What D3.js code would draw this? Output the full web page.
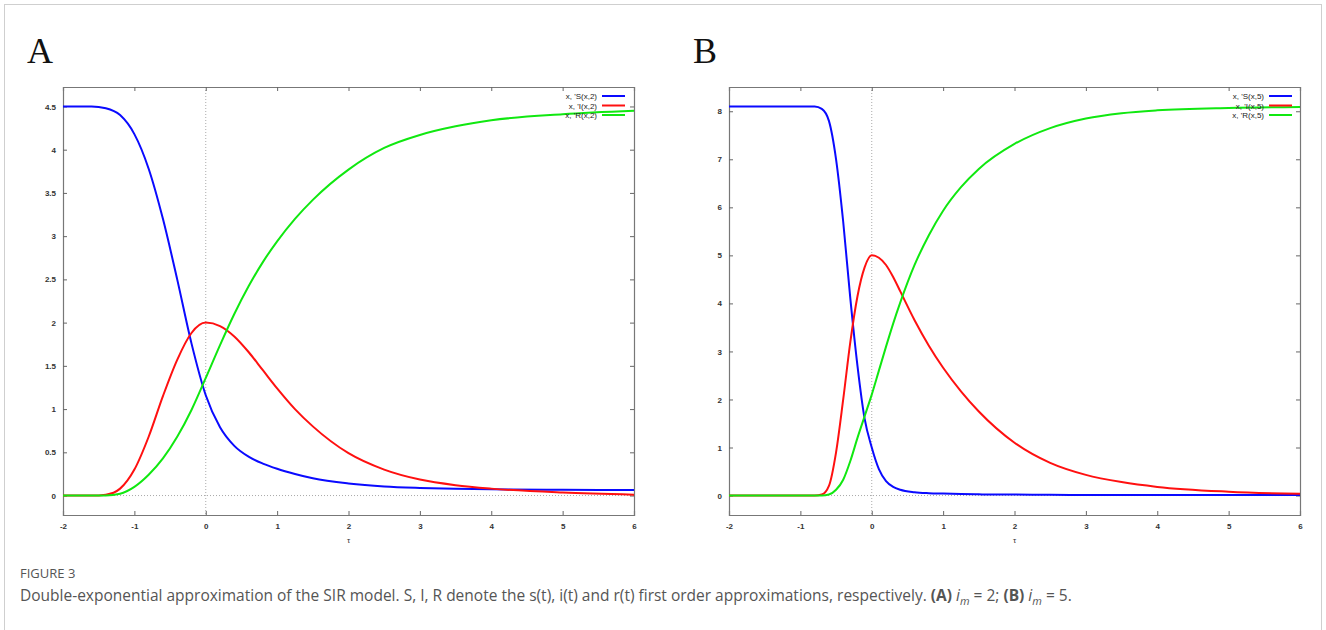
<!DOCTYPE html>
<html>
<head>
<meta charset="utf-8">
<script src="https://cdn.jsdelivr.net/npm/d3@7"></script>
<style>
  body{margin:0;background:#fff;}
  svg{display:block;}
</style>
</head>
<body>
<script>
// panel A, i_m = 2
var xsA=[-2,-1.6,-1.4,-1.2,-1,-0.8,-0.6,-0.4,-0.2,0,0.2,0.4,0.6,0.8,1,1.25,1.5,2,2.5,3,3.5,4,5,6]
var sA=[4.5,4.5,4.48,4.4,4.18,3.78,3.2,2.5,1.76,1.16,0.79,0.575,0.45,0.37,0.31,0.25,0.2,0.14,0.105,0.088,0.078,0.072,0.066,0.065]
var iA=[0,0,0.01,0.08,0.3,0.68,1.15,1.57,1.88,2.0,1.96,1.84,1.66,1.45,1.24,1.0,0.8,0.49,0.3,0.185,0.12,0.08,0.035,0.01]
var rA=[0,0,0,0.02,0.1,0.24,0.43,0.68,0.99,1.36,1.74,2.1,2.42,2.7,2.94,3.2,3.42,3.77,4.02,4.17,4.27,4.34,4.41,4.45]

// panel B, i_m = 5
var xsB=[-2,-1,-0.8,-0.7,-0.6,-0.5,-0.4,-0.3,-0.2,-0.1,0,0.1,0.2,0.3,0.4,0.6,0.8,1,1.25,1.5,2,2.5,3,3.5,4,5,6]
var sB=[8.1,8.1,8.1,8.05,7.8,7.0,5.7,4.1,2.7,1.6,1.0,0.55,0.3,0.18,0.12,0.07,0.05,0.04,0.03,0.025,0.02,0.015,0.01,0.01,0.01,0.01,0.01]
var iB=[0,0,0,0.02,0.2,0.9,2.0,3.2,4.15,4.75,5.0,4.95,4.8,4.55,4.25,3.65,3.12,2.66,2.17,1.75,1.1,0.68,0.43,0.28,0.18,0.08,0.035]
var rB=[0,0,0,0,0.02,0.12,0.33,0.72,1.2,1.65,2.1,2.6,3.1,3.58,4.02,4.8,5.42,5.93,6.42,6.8,7.32,7.65,7.85,7.96,8.02,8.07,8.09]

var xTicks=[-2,-1,0,1,2,3,4,5,6]
var yTicksA=[0,0.5,1,1.5,2,2.5,3,3.5,4,4.5]
var yTicksB=[0,1,2,3,4,5,6,7,8]
var legendA=["x, 'S(x,2)","x, 'I(x,2)","x, 'R(x,2)"]
var legendB=["x, 'S(x,5)","x, 'I(x,5)","x, 'R(x,5)"]
var colors=["#0a0aff","#ff1010","#10e810"]

var screen={width:1326,height:630}
var svg=d3.select("body").append("svg")
  .attr('width',screen.width)
  .attr('height',screen.height)
  .style('font-family','"Liberation Sans", Arial, sans-serif')

// outer frame
svg.append("rect")
  .attr('x',4.5).attr('y',4.5)
  .attr('width',1317).attr('height',700)
  .attr('fill','none').attr('stroke','#cfcfcf')

var drawPanel=function(opt){
  var xScale=d3.scaleLinear().domain([-2,6]).range([opt.left,opt.right])
  var yScale=d3.scaleLinear().domain(opt.ydom).range([515,87])
  var g=svg.append("g")

  // letter
  svg.append("text")
    .attr('x',opt.left-36).attr('y',63)
    .attr('font-family','"Liberation Serif", "DejaVu Serif", serif')
    .attr('font-size',36).attr('fill','#111')
    .text(opt.letter)

  // zero axes, dotted
  g.append("line")
    .attr('x1',xScale(0)).attr('x2',xScale(0))
    .attr('y1',87).attr('y2',515)
    .attr('stroke','#aaa').attr('stroke-width',1).attr('stroke-dasharray','1,2')
  g.append("line")
    .attr('x1',opt.left).attr('x2',opt.right)
    .attr('y1',yScale(0)).attr('y2',yScale(0))
    .attr('stroke','#aaa').attr('stroke-width',1).attr('stroke-dasharray','1,2')

  // axes with mirrored ticks
  var fmt=function(d){return String(d)}
  var xb=d3.axisBottom(xScale).tickValues(xTicks).tickSize(-4).tickPadding(8).tickFormat(fmt)
  var xt=d3.axisTop(xScale).tickValues(xTicks).tickSize(-4).tickFormat('')
  var yl=d3.axisLeft(yScale).tickValues(opt.yticks).tickSize(-4).tickPadding(7).tickFormat(fmt)
  var yr=d3.axisRight(yScale).tickValues(opt.yticks).tickSize(-4).tickFormat('')

  var axes=[
    g.append("g").attr('transform','translate(0,515)').call(xb),
    g.append("g").attr('transform','translate(0,87)').call(xt),
    g.append("g").attr('transform','translate('+opt.left+',0)').call(yl),
    g.append("g").attr('transform','translate('+opt.right+',0)').call(yr)
  ]
  axes.forEach(function(a){
    a.select('.domain').attr('stroke','#777').attr('stroke-width',1.2)
    a.selectAll('.tick line').attr('stroke','#666')
    a.selectAll('.tick text').attr('font-size',8).attr('fill','#333').attr('font-weight','bold')
      .attr('font-family','"Liberation Sans", Arial, sans-serif')
  })

  // x label
  g.append("text")
    .attr('x',(opt.left+opt.right)/2).attr('y',543)
    .attr('text-anchor','middle').attr('font-size',8).attr('fill','#333')
    .text('τ')

  // curves
  var line=d3.line()
    .x(function(d){return xScale(d[0])})
    .y(function(d){return yScale(d[1])})
    .curve(d3.curveMonotoneX)
  opt.series.forEach(function(s,i){
    g.append("path")
      .datum(opt.xs.map(function(x,j){return [x,s[j]]}))
      .attr('d',line)
      .attr('fill','none')
      .attr('stroke',colors[i])
      .attr('stroke-width',2)
  })

  // legend
  var lg=g.append("g")
  opt.legend.forEach(function(t,i){
    var y=96+i*9.5
    lg.append("text")
      .attr('x',opt.legendX).attr('y',y+3)
      .attr('text-anchor','end').attr('font-size',8).attr('fill','#222')
      .text(t)
    lg.append("line")
      .attr('x1',opt.legendX+5).attr('x2',opt.legendX+28)
      .attr('y1',y).attr('y2',y)
      .attr('stroke',colors[i]).attr('stroke-width',2)
  })
}

drawPanel({letter:'A',left:63,right:634,ydom:[-0.225,4.725],yticks:yTicksA,xs:xsA,series:[sA,iA,rA],legend:legendA,legendX:597})
drawPanel({letter:'B',left:729,right:1300,ydom:[-0.405,8.505],yticks:yTicksB,xs:xsB,series:[sB,iB,rB],legend:legendB,legendX:1264})

// caption
var cap=svg.append("g").attr('font-family','"Open Sans", "Noto Sans", sans-serif').attr('fill','#555')
cap.append("text").attr('x',20).attr('y',578).attr('font-size',13).text('FIGURE 3')
var t=cap.append("text").attr('x',20).attr('y',601).attr('font-size',15.5)
t.append("tspan").text('Double-exponential approximation of the SIR model. S, I, R denote the s(t), i(t) and r(t) first order approximations, respectively. ')
t.append("tspan").attr('font-weight','bold').text('(A)')
t.append("tspan").text(' ')
t.append("tspan").attr('font-style','italic').text('i')
t.append("tspan").attr('font-style','italic').attr('font-size',11).attr('dy',4).text('m')
t.append("tspan").attr('dy',-4).text(' = 2; ')
t.append("tspan").attr('font-weight','bold').text('(B)')
t.append("tspan").text(' ')
t.append("tspan").attr('font-style','italic').text('i')
t.append("tspan").attr('font-style','italic').attr('font-size',11).attr('dy',4).text('m')
t.append("tspan").attr('dy',-4).text(' = 5.')
</script>
</body>
</html>
